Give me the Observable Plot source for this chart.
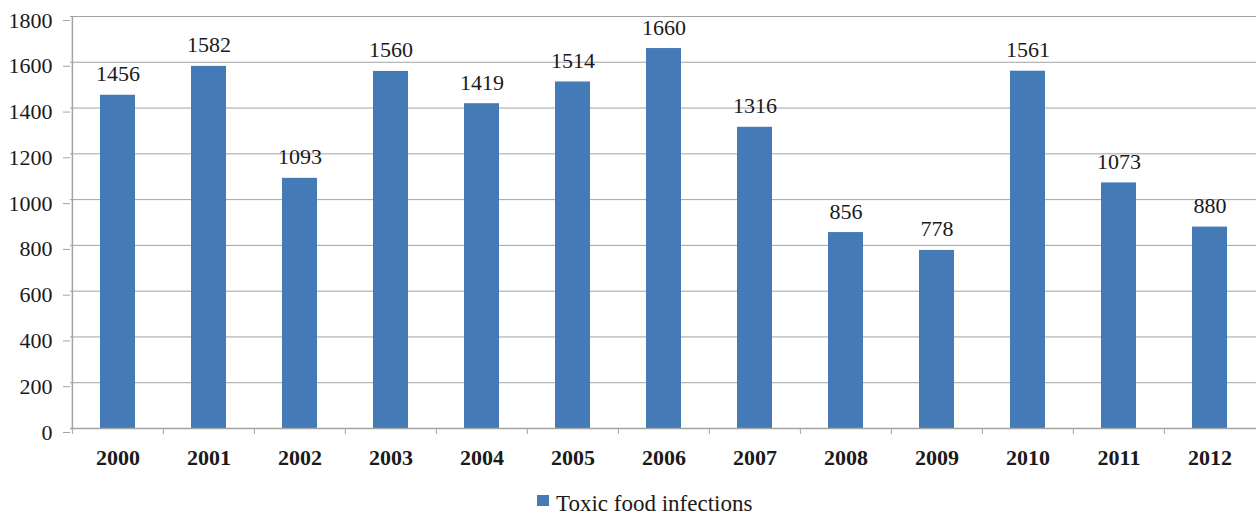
<!DOCTYPE html>
<html>
<head>
<meta charset="utf-8">
<script src="https://cdn.jsdelivr.net/npm/d3@7"></script>
<script src="https://cdn.jsdelivr.net/npm/@observablehq/plot@0.6"></script>
<style>
  html, body { margin: 0; padding: 0; background: #fff; }
  #chart { position: relative; width: 1256px; }
  #legend { position: relative; width: 1256px; height: 46px; font-family: "Liberation Serif", "Times New Roman", serif; font-size: 23px; color: #1a1a1a; }
  #legend .swatch { position: absolute; left: 537px; top: 25px; width: 12px; height: 11px; }
  #legend .label { position: absolute; left: 556px; top: 22px; line-height: 1; white-space: nowrap; }
</style>
</head>
<body>
<div id="chart"></div>
<div id="legend"><span class="swatch"></span><span class="label"></span></div>
<script>
// Annual number of toxic food infections, 2000–2012
const years = ["2000", "2001", "2002", "2003", "2004", "2005", "2006", "2007", "2008", "2009", "2010", "2011", "2012"];
const infections = [1456, 1582, 1093, 1560, 1419, 1514, 1660, 1316, 856, 778, 1561, 1073, 880];
const yTicks = [0, 200, 400, 600, 800, 1000, 1200, 1400, 1600, 1800];
const seriesName = "Toxic food infections";

const barColor = "#447ab6";
const gridColor = "#a3a3a3";
const textColor = "#1a1a1a";
const font = "\"Liberation Serif\", \"Times New Roman\", serif";

const data = years.map((year, i) => ({year, value: infections[i]}));

const width = 1256;
const marginLeft = 70;
const marginRight = 0;
// one category step; boundaries sit half a step from each band centre
const step = (width - marginLeft - marginRight) / years.length;

const chart = Plot.plot({
  width,
  height: 470,
  marginLeft,
  marginRight,
  marginTop: 16,
  marginBottom: 42,
  style: {fontFamily: font, fontSize: "22px", color: textColor, background: "#fff"},
  x: {domain: years, paddingInner: 0.62, paddingOuter: 0.31, label: null},
  y: {domain: [0, 1800], label: null},
  marks: [
    Plot.gridY(yTicks, {stroke: gridColor, strokeOpacity: 1, strokeWidth: 1}),
    Plot.ruleX([years[0]], {dx: -step / 2, stroke: gridColor, strokeWidth: 1.5}),
    Plot.axisY(yTicks, {
      tickSize: 7, tickPadding: 11, stroke: gridColor, fill: textColor,
      tickFormat: d => String(d), dy: 4, label: null
    }),
    Plot.barY(data, {x: "year", y: "value", fill: barColor}),
    Plot.text(data, {
      x: "year", y: "value", text: d => String(d.value),
      lineAnchor: "bottom", dy: -14, fill: textColor
    }),
    Plot.axisX(years, {
      tickSize: 6, stroke: gridColor, dx: -step / 2, tickFormat: () => "", label: null
    }),
    Plot.axisX(years, {
      tickSize: 0, tickPadding: 21, fontWeight: "bold", fill: textColor, label: null
    }),
    Plot.ruleY([0], {stroke: gridColor, strokeWidth: 1.5})
  ]
});

document.getElementById("chart").append(chart);
document.querySelector("#legend .swatch").style.background = barColor;
document.querySelector("#legend .label").textContent = seriesName;
</script>
</body>
</html>
